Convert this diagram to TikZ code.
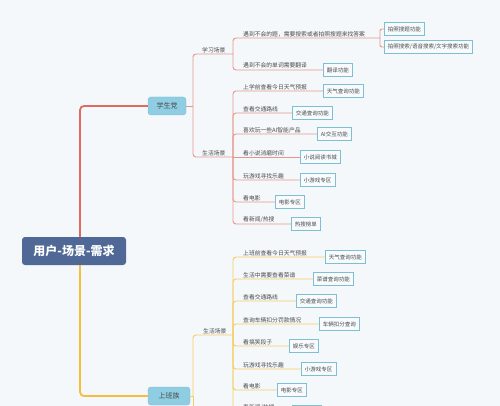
\documentclass[tikz,border=0pt]{standalone}
\usepackage{fontspec}
\newfontfamily\cjk{Noto Sans CJK SC}
\definecolor{bgc}{HTML}{F4F8FB}
\definecolor{rootc}{HTML}{4F6895}
\definecolor{catc}{HTML}{8ECDE2}
\definecolor{catd}{HTML}{7DBCD2}
\definecolor{leafd}{HTML}{7CC0D2}
\definecolor{leaff}{HTML}{F7FBFD}
\definecolor{txt}{HTML}{4A4A4A}
\definecolor{redt}{HTML}{E06A62}
\definecolor{redl}{HTML}{E8968D}
\definecolor{yelt}{HTML}{F2BE3C}
\definecolor{yell}{HTML}{F4CC62}
\begin{document}
\begin{tikzpicture}[x=1pt,y=-1pt,
  rootbox/.style={fill=rootc, rounded corners=3pt, text=white, font=\cjk\bfseries\fontsize{12}{14}\selectfont, minimum width=104pt, minimum height=28pt, inner sep=0pt},
  catbox/.style={fill=catc, draw=catd, line width=0.4pt, rounded corners=3pt, text=txt, font=\cjk\fontsize{7}{8}\selectfont, minimum height=18pt, inner sep=0pt},
  leaf/.style={draw=leafd, fill=leaff, line width=0.8pt, text=txt, font=\cjk\fontsize{5.5}{6}\selectfont, inner xsep=3.5pt, inner ysep=0pt, minimum height=13pt, anchor=west},
  lbl/.style={text=txt, font=\cjk\fontsize{5.8}{6}\selectfont, inner sep=0pt, anchor=south west},
  rtrunk/.style={draw=redt, line width=1.8pt, rounded corners=4pt},
  ytrunk/.style={draw=yelt, line width=1.8pt, rounded corners=4pt},
  rl/.style={draw=redl, line width=0.9pt, rounded corners=3pt},
  yl/.style={draw=yell, line width=0.9pt, rounded corners=3pt}]
\useasboundingbox (0,0) rectangle (500,406);
\clip (0,0) rectangle (500,406);
\fill[bgc] (0,0) rectangle (500,406);

% main nodes
\node[rootbox] (root) at (74,251) {用户-场景-需求};
\node[catbox, minimum width=38pt] (xsd) at (167,106) {学生党};
\node[catbox, minimum width=42pt] (sbz) at (169,396) {上班族};
\draw[rtrunk] (root.north) ++(6,0) |- (xsd.west);
\draw[ytrunk] (root.south) ++(6,0) |- (sbz.west);

% student branch
\coordinate (xj) at (193,106);
\coordinate (xxe) at (233,54);
\coordinate (xse) at (233,157);
\draw[rl] (xsd.east) -- (xj);
\draw[rl] (xj) |- (xxe);
\draw[rl] (xj) |- (xse);
\node[lbl] (xx) at (202,53) {学习场景};
\node[lbl] (xs) at (202,156) {生活场景};

% study scene
\node[lbl] (q1) at (243,37) {遇到不会的题，需要搜索或者拍照搜题来找答案};
\coordinate (q1e) at (380,38);
\node[leaf] (b1) at (384,29) {拍照搜题功能};
\node[leaf] (b2) at (384,47) {拍照搜索/语音搜索/文字搜索功能};
\draw[rl] (xxe) |- (q1e);
\draw[rl, rounded corners=2pt] (q1e) |- (b1.west);
\draw[rl, rounded corners=2pt] (q1e) |- (b2.west);
\node[lbl] (q2) at (243,68) {遇到不会的单词需要翻译};
\node[leaf] (b3) at (323,70) {翻译功能};
\draw[rl] (xxe) |- (b3.west);

% student life scene
\node[lbl] (s1) at (243,90) {上学前查看今日天气预报};
\node[leaf] (sb1) at (323,91) {天气查询功能};
\draw[rl] (xse) |- (sb1.west);
\node[lbl] (s2) at (243,112) {查看交通路线};
\node[leaf] (sb2) at (292,113) {交通查询功能};
\draw[rl] (xse) |- (sb2.west);
\node[lbl] (s3) at (243,133) {喜欢玩一些AI智能产品};
\node[leaf] (sb3) at (317,134) {AI交互功能};
\draw[rl] (xse) |- (sb3.west);
\node[lbl] (s4) at (243,156) {看小说消磨时间};
\node[leaf] (sb4) at (300,157) {小说阅读书城};
\draw[rl] (xse) -- (sb4.west);
\node[lbl] (s5) at (243,179) {玩游戏寻找乐趣};
\node[leaf] (sb5) at (300,180) {小游戏专区};
\draw[rl] (xse) |- (sb5.west);
\node[lbl] (s6) at (243,201) {看电影};
\node[leaf] (sb6) at (275,202) {电影专区};
\draw[rl] (xse) |- (sb6.west);
\node[lbl] (s7) at (243,223) {看新闻/热搜};
\node[leaf] (sb7) at (291,224) {热搜榜单};
\draw[rl] (xse) |- (sb7.west);

% worker branch
\coordinate (wj) at (193,396);
\coordinate (wse) at (233,335);
\coordinate (wdown) at (193,430);
\draw[yl] (sbz.east) -- (wj);
\draw[yl] (wj) |- (wse);
\draw[yl] (wj) -- (wdown);
\node[lbl] (ws) at (203,334) {生活场景};

\node[lbl] (w1) at (243,256) {上班前查看今日天气预报};
\node[leaf] (wb1) at (325,257) {天气查询功能};
\draw[yl] (wse) |- (wb1.west);
\node[lbl] (w2) at (243,278) {生活中需要查看菜谱};
\node[leaf] (wb2) at (313,279) {菜谱查询功能};
\draw[yl] (wse) |- (wb2.west);
\node[lbl] (w3) at (243,300) {查看交通路线};
\node[leaf] (wb3) at (296,301) {交通查询功能};
\draw[yl] (wse) |- (wb3.west);
\node[lbl] (w4) at (243,323) {查询车辆扣分罚款情况};
\node[leaf] (wb4) at (319,324) {车辆扣分查询};
\draw[yl] (wse) |- (wb4.west);
\node[lbl] (w5) at (243,345) {看搞笑段子};
\node[leaf] (wb5) at (289,346) {娱乐专区};
\draw[yl] (wse) |- (wb5.west);
\node[lbl] (w6) at (243,368) {玩游戏寻找乐趣};
\node[leaf] (wb6) at (301,369) {小游戏专区};
\draw[yl] (wse) |- (wb6.west);
\node[lbl] (w7) at (243,389) {看电影};
\node[leaf] (wb7) at (277,390) {电影专区};
\draw[yl] (wse) |- (wb7.west);
\node[lbl] (w8) at (243,411) {看新闻/热搜};
\node[leaf] (wb8) at (292,412) {热搜榜单};
\draw[yl] (wse) |- (wb8.west);
\end{tikzpicture}
\end{document}
